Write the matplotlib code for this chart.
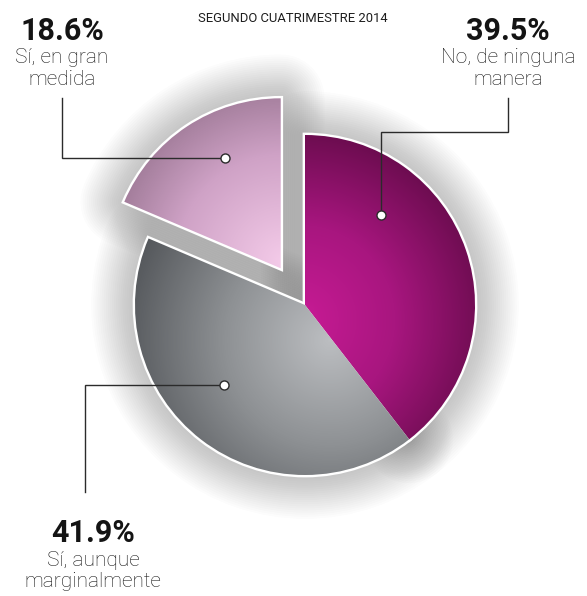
import numpy as np
import matplotlib.pyplot as plt
from matplotlib.colors import LinearSegmentedColormap
from matplotlib.patches import Wedge

# data
labels = ['No, de ninguna\nmanera', 'Sí, aunque\nmarginalmente', 'Sí, en gran\nmedida']
values = [39.5, 41.9, 18.6]
pct_labels = ['39.5%', '41.9%', '18.6%']
title = 'SEGUNDO CUATRIMESTRE 2014'

W, H = 587, 596
plt.rcParams['font.family'] = ['Roboto', 'DejaVu Sans']


def fy(y):
    # picture y (from top) -> axes y (from bottom)
    return H - y


fig = plt.figure(figsize=(W / 100, H / 100), dpi=100)
ax = fig.add_axes([0, 0, 1, 1])

wedges, _ = ax.pie(values, center=(305, fy(305)), radius=170, startangle=90,
                   counterclock=False, explode=[0, 0, 44],
                   wedgeprops=dict(linewidth=0, zorder=2))
ax.set_xlim(0, W)
ax.set_ylim(0, H)
ax.set_aspect('equal')
ax.axis('off')

# gradient fill for each slice: (colours, light point, fall-off distance)
shades = [
    (['#c81b95', '#a8167f', '#6a0c4e'], (300, 320), 190),
    (['#bcbec1', '#8e9194', '#54575b'], (330, 340), 210),
    (['#f4cbe9', '#cfa2c6', '#86657f'], (284, 262), 215),
]
X, Y = np.meshgrid(np.arange(W) + 0.5, np.arange(H) + 0.5)
for w, (cols, (lx, ly), dist) in zip(wedges, shades):
    cmap = LinearSegmentedColormap.from_list('g', cols)
    t = np.clip(np.hypot(X - lx, Y - fy(ly)) / dist, 0, 1)
    img = ax.imshow(cmap(t), extent=(0, W, 0, H), origin='lower',
                    zorder=3, interpolation='bilinear')
    img.set_clip_path(w)
    # soft drop shadow
    for i in range(1, 22):
        ax.add_patch(Wedge(w.center, w.r, w.theta1, w.theta2, fc='none',
                           ec='#505050', lw=i * 3.0, alpha=0.014, zorder=0,
                           joinstyle='round'))
    # white outline, half hidden under the fill so shared edges stay clean
    ax.add_patch(Wedge(w.center, w.r, w.theta1, w.theta2, fill=False,
                       ec='white', lw=3.4, zorder=2.5, joinstyle='miter'))

# leader lines and dots
leaders = [
    [(508, 98), (508, 132), (381, 132), (381, 215)],
    [(85, 492), (85, 385), (224, 385)],
    [(62, 98), (62, 158), (225, 158)],
]
for pts in leaders:
    xs = [p[0] for p in pts]
    ys = [fy(p[1]) for p in pts]
    ax.plot(xs, ys, color='#2b2b2b', lw=1.0, zorder=5, solid_joinstyle='miter')
    ax.plot(xs[-1], ys[-1], 'o', ms=6.5, mfc='white', mec='#2b2b2b',
            mew=1.0, zorder=6)

# labels: (x, baseline of pct, first line, second line)
label_pos = [(508, 40, 63, 85), (93, 542, 566, 587), (62, 40, 63, 85)]
for (x, yp, y1, y2), pct, lab in zip(label_pos, pct_labels, labels):
    ax.text(x, fy(yp), pct, ha='center', va='baseline', fontsize=22,
            fontweight='bold', color='#141414')
    for line, yl in zip(lab.split('\n'), (y1, y2)):
        ax.text(x, fy(yl), line, ha='center', va='baseline', fontsize=15,
                fontweight='light', color='#141414')

ax.text(293, fy(22), title, ha='center', va='baseline', fontsize=9.4,
        color='#1e1e1e')

fig.savefig('out.png', dpi=100, facecolor='white')
